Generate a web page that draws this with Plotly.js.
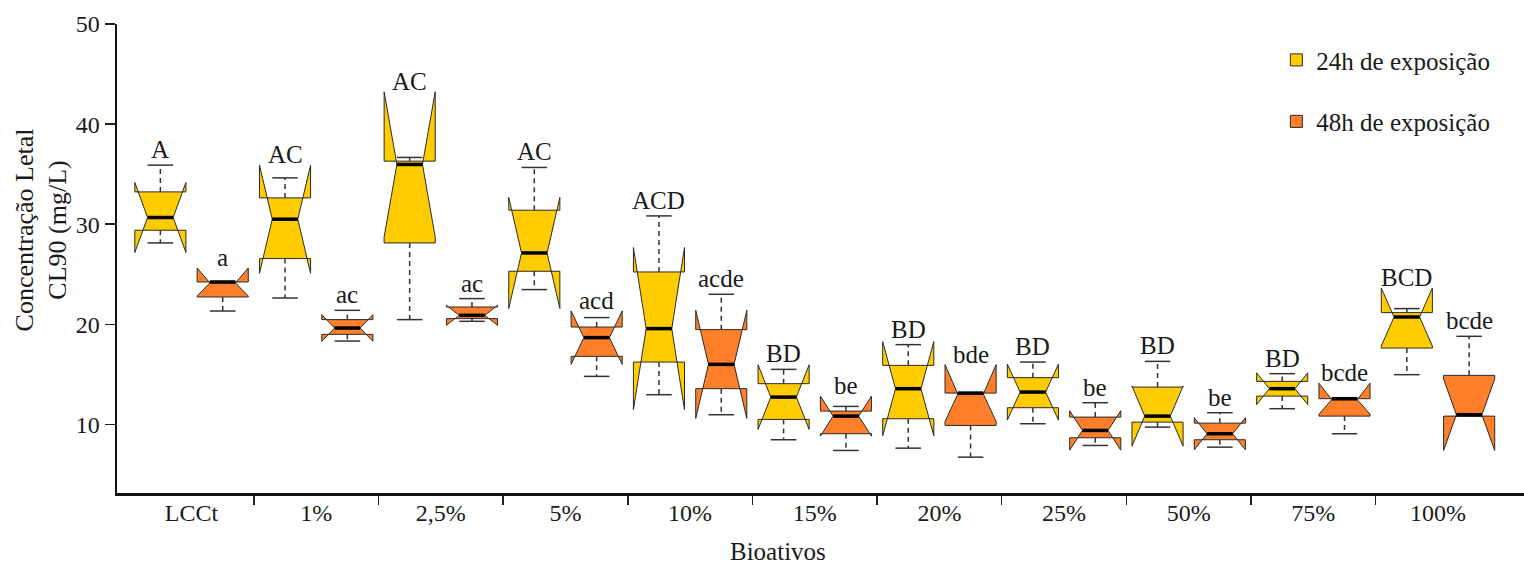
<!DOCTYPE html>
<html><head><meta charset="utf-8">
<script src="https://cdn.plot.ly/plotly-3.0.1.min.js"></script>
<style>html,body{margin:0;padding:0;background:#fff;font-family:'Liberation Serif',serif}</style>
</head><body>
<div id="chart" style="width:1524px;height:566px"></div>
<script>
// ---- data ----
const categories = ['LCCt','1%','2,5%','5%','10%','15%','20%','25%','50%','75%','100%'];

const q1_24    = [29.4, 26.57, 28.13, 25.3, 16.23, 10.5, 10.57, 11.67, 10.23, 12.83, 17.63];
const med_24   = [30.67, 30.5, 35.97, 27.13, 19.57, 12.73, 13.57, 13.23, 10.83, 13.57, 20.73];
const q3_24    = [33.23, 32.63, 36.3, 31.4, 25.23, 14.07, 15.9, 14.67, 13.73, 14.3, 21.17];
const lf_24    = [28.13, 22.63, 20.47, 23.47, 12.97, 8.47, 7.63, 10.07, 9.73, 11.57, 14.97];
const uf_24    = [35.9, 34.63, 36.67, 35.67, 30.83, 15.5, 17.97, 16.23, 16.3, 15.07, 21.57];
const notch_24 = [3.5, 5.4, 7.26, 5.55, 8.1, 3.23, 4.7, 2.8, 3.0, 1.58, 2.9];
const labels_24 = ['A','AC','AC','AC','ACD','BD','BD','BD','BD','BD','BCD'];

const q1_48    = [22.73, 19.0, 20.57, 16.8, 13.57, 9.07, 9.9, 8.67, 8.47, 10.83, 10.83];
const med_48   = [24.23, 19.63, 20.9, 18.67, 16.0, 10.83, 13.13, 9.4, 9.07, 12.57, 10.97];
const q3_48    = [24.23, 20.47, 21.73, 19.73, 19.47, 11.33, 13.13, 10.73, 10.13, 12.57, 14.9];
const lf_48    = [21.33, 18.33, 20.3, 14.8, 10.97, 7.4, 6.73, 7.9, 7.73, 9.07, 10.83];
const uf_48    = [24.23, 21.4, 22.57, 20.67, 23.0, 11.8, 13.13, 12.17, 11.17, 12.57, 18.8];
const notch_48 = [1.4, 1.33, 1.0, 2.67, 5.4, 2.0, 2.85, 1.97, 1.6, 1.55, 3.57];
const labels_48 = ['a','ac','ac','acd','acde','be','bde','be','be','bcde','bcde'];

const seriesNames = ['24h de exposição', '48h de exposição'];

// ---- style ----
const FONT = 'Liberation Serif';
const TXT = '#1a1a1a';
const OFF = 0.25, BOX_W = 0.41;
const HALF_MED = BOX_W / 4, HALF_CAP = BOX_W / 4;
const idx = categories.map((c, i) => i);

const traces = [];
const annotations = [];

function addSeries(name, color, sign, q1, med, q3, lf, uf, notch, labels) {
  const xs = idx.map(i => i + sign * OFF);
  traces.push({
    type: 'box', name: name, x: xs,
    q1: q1, median: med, q3: q3,
    lowerfence: lf, upperfence: uf,
    notchspan: notch, notched: true, notchwidth: 0.25,
    showwhiskers: false,
    width: BOX_W, whiskerwidth: 0,
    boxpoints: false,
    fillcolor: color,
    line: {color: '#2a2a2a', width: 1},
    hoverinfo: 'skip', legendgroup: name
  });
  // whiskers (dashed)
  const wx = [], wy = [];
  xs.forEach((x, i) => {
    wx.push(x, x, null, x, x, null);
    wy.push(q3[i], uf[i], null, q1[i], lf[i], null);
  });
  traces.push({type: 'scatter', mode: 'lines', x: wx, y: wy, showlegend: false, hoverinfo: 'skip',
    line: {color: '#333', width: 1.5, dash: '5px,4px'}});
  // caps
  const cx = [], cy = [];
  xs.forEach((x, i) => {
    cx.push(x - HALF_CAP, x + HALF_CAP, null, x - HALF_CAP, x + HALF_CAP, null);
    cy.push(uf[i], uf[i], null, lf[i], lf[i], null);
  });
  traces.push({type: 'scatter', mode: 'lines', x: cx, y: cy, showlegend: false, hoverinfo: 'skip',
    line: {color: '#333', width: 1.5}});
  // medians (thick)
  const mx = [], my = [];
  xs.forEach((x, i) => {
    mx.push(x - HALF_MED, x + HALF_MED, null);
    my.push(med[i], med[i], null);
  });
  traces.push({type: 'scatter', mode: 'lines', x: mx, y: my, showlegend: false, hoverinfo: 'skip',
    line: {color: '#000', width: 3.5}});
  // letters
  xs.forEach((x, i) => {
    annotations.push({
      x: x, y: Math.max(uf[i], med[i] + notch[i] - 0.5), xref: 'x', yref: 'y',
      text: labels[i], showarrow: false, yanchor: 'bottom', xanchor: 'center',
      font: {family: FONT, size: 25, color: TXT}
    });
  });
}

addSeries(seriesNames[0], '#FFCC00', -1, q1_24, med_24, q3_24, lf_24, uf_24, notch_24, labels_24);
addSeries(seriesNames[1], '#FF7F2A', 1, q1_48, med_48, q3_48, lf_48, uf_48, notch_48, labels_48);

annotations.push({
  xref: 'paper', yref: 'paper', x: -0.054, y: 0.56, xanchor: 'center', yanchor: 'middle',
  text: 'Concentração Letal<br>CL90 (mg/L)', textangle: -90, showarrow: false,
  font: {family: FONT, size: 26, color: TXT}
});
annotations.push({
  xref: 'paper', yref: 'paper', x: 0.47, y: -0.125, xanchor: 'center', yanchor: 'middle',
  text: 'Bioativos', showarrow: false, font: {family: FONT, size: 25, color: TXT}
});

const layout = {
  width: 1524, height: 566,
  margin: {l: 117, r: 0, t: 24, b: 73.4},
  paper_bgcolor: '#fff', plot_bgcolor: '#fff',
  font: {family: FONT, size: 24, color: TXT},
  showlegend: true,
  legend: {x: 0.824, y: 0.972, xanchor: 'left', yanchor: 'top', tracegroupgap: 26,
    font: {family: FONT, size: 25, color: TXT}, bgcolor: 'rgba(0,0,0,0)'},
  xaxis: {
    range: [-0.598, 10.69], showgrid: false, zeroline: false,
    showline: true, linecolor: '#111', linewidth: 2.5,
    tickmode: 'array', tickvals: idx, ticktext: categories,
    ticks: 'outside', ticklen: 1, tickcolor: 'rgba(0,0,0,0)', ticklabelstandoff: -4,
    minor: {tickmode: 'array', tickvals: idx.slice(0, -1).map(i => i + 0.5),
      ticks: 'outside', ticklen: 9, tickcolor: '#222', tickwidth: 1.5, showgrid: false},
    tickfont: {family: FONT, size: 24, color: TXT}, fixedrange: true
  },
  yaxis: {
    range: [3.15, 50], showgrid: false, zeroline: false,
    showline: true, linecolor: '#111', linewidth: 2.5,
    tickmode: 'array', tickvals: [10, 20, 30, 40, 50],
    ticks: 'outside', ticklen: 10, tickcolor: '#222', tickwidth: 1.5,
    tickfont: {family: FONT, size: 24, color: TXT}, fixedrange: true
  },
  annotations: annotations
};

function draw() {
  Plotly.newPlot('chart', traces, layout, {displayModeBar: false, staticPlot: true});
}
draw();
if (document.fonts && document.fonts.load) {
  document.fonts.load('24px "Liberation Serif"').then(() => Plotly.redraw('chart')).catch(() => {});
}
</script>
</body></html>
